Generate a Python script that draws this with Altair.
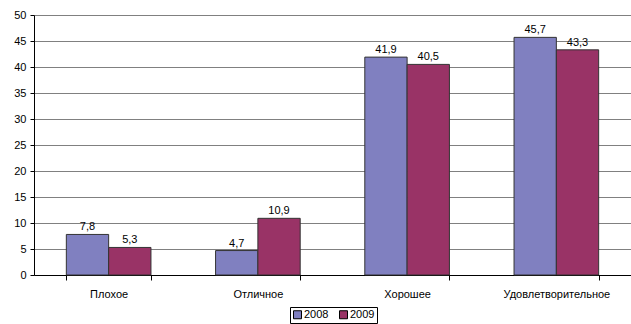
import altair as alt
import pandas as pd

categories = ["Плохое", "Отличное", "Хорошее", "Удовлетворительное"]
years = ["2008", "2009"]
values_2008 = [7.8, 4.7, 41.9, 45.7]
values_2009 = [5.3, 10.9, 40.5, 43.3]
y_ticks = [0, 5, 10, 15, 20, 25, 30, 35, 40, 45, 50]

rows = []
for c, a, b in zip(categories, values_2008, values_2009):
    rows.append({"cat": c, "year": "2008", "value": a, "label": f"{a:.1f}".replace(".", ",")})
    rows.append({"cat": c, "year": "2009", "value": b, "label": f"{b:.1f}".replace(".", ",")})
df = pd.DataFrame(rows)

FONT = "Liberation Sans Narrow, Liberation Sans, Arial, sans-serif"

x = alt.X("cat:N", sort=categories, title=None,
          scale=alt.Scale(paddingInner=0.433, paddingOuter=0.2167),
          axis=alt.Axis(labelAngle=0, tickBand="extent", labelFontSize=11,
                        labelFont=FONT, labelColor="#000", domainColor="#000",
                        tickColor="#000", tickSize=5, labelPadding=8, grid=False))
y = alt.Y("value:Q", title=None,
          scale=alt.Scale(domain=[0, 50], nice=False),
          axis=alt.Axis(values=y_ticks, labelFontSize=11, labelFont=FONT,
                        labelColor="#000", domainColor="#000", tickColor="#000",
                        tickSize=4, labelPadding=4, grid=True, gridColor="#808080",
                        gridWidth=1))

base = alt.Chart(df)
bars = base.mark_bar(stroke="#333333", strokeWidth=1).encode(
    x=x, y=y,
    xOffset=alt.XOffset("year:N", sort=years),
    color=alt.Color("year:N", sort=years,
                    scale=alt.Scale(domain=years, range=["#8080C0", "#993366"]),
                    legend=alt.Legend(title=None, orient="none", direction="horizontal",
                                      legendX=256, legendY=292, symbolType="square",
                                      symbolSize=64, symbolStrokeColor="#000",
                                      symbolStrokeWidth=1, labelFontSize=11,
                                      labelFont=FONT, labelColor="#000",
                                      strokeColor="#000", fillColor="#fff",
                                      padding=2, columnPadding=8, symbolOffset=0,
                                      labelOffset=1)),
)
texts = base.mark_text(dy=-7, fontSize=11, font=FONT, color="#000").encode(
    x=x, y=y,
    xOffset=alt.XOffset("year:N", sort=years),
    text="label:N",
)

chart = (bars + texts).properties(
    width=597, height=260,
    autosize=alt.AutoSizeParams(type="none"),
    padding={"left": 34, "top": 15, "right": 0, "bottom": 49},
).configure_view(stroke=None).configure(background="#ffffff")

chart.save("out.html", embed_options={"renderer": "svg", "actions": False})
